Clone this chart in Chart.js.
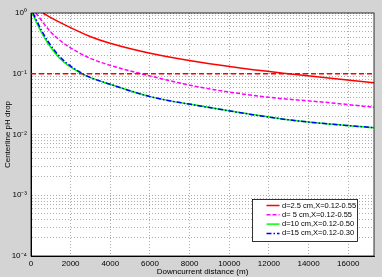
<!DOCTYPE html>
<html>
<head>
<meta charset="utf-8">
<script src="https://cdn.jsdelivr.net/npm/chart.js@4.4.0/dist/chart.umd.min.js"></script>
<style>
  html, body { margin: 0; padding: 0; background: #d4d4d4; }
</style>
</head>
<body>
<canvas id="pHChart" width="382" height="277"></canvas>
<script>
// distances (m) and centerline pH drop
const redX = [600, 1025, 1530, 2980, 3990, 6010, 8535, 10555, 13590, 17320];
const redY = [1, 0.83, 0.68, 0.41, 0.317, 0.217, 0.154, 0.1245, 0.095, 0.071];

const magentaX = [250, 960, 1530, 1970, 2980, 4500, 5500, 8535, 12000, 15000, 17320];
const magentaY = [1, 0.5, 0.34, 0.27, 0.18, 0.123, 0.101, 0.06, 0.041, 0.0335, 0.028];

const greenX = [60, 480, 820, 1480, 2560, 2980, 3990, 6010, 8535, 13080, 17320];
const greenY = [1, 0.51, 0.33, 0.175, 0.1, 0.087, 0.067, 0.042, 0.0295, 0.0173, 0.0129];

const blueX = [100, 520, 860, 1530, 2600, 2980, 3990, 6010, 8535, 13080, 17320];
const blueY = [1, 0.525, 0.34, 0.18, 0.1, 0.087, 0.067, 0.042, 0.0295, 0.0173, 0.0129];

const refX = [0, 17300];
const refY = [0.1, 0.1];

const seriesLabels = ['d=2.5 cm,X=0.12-0.55', 'd= 5 cm,X=0.12-0.55', 'd=10 cm,X=0.12-0.50', 'd=15 cm,X=0.12-0.30'];

const xTicks = [0, 2000, 4000, 6000, 8000, 10000, 12000, 14000, 16000];
const xMax = 17300;
const yDecades = [1e-4, 1e-3, 1e-2, 1e-1, 1];
const yDecadeLabels = ['10\u207B\u2074', '10\u207B\u00B3', '10\u207B\u00B2', '10\u207B\u00B9', '10\u2070'];
const yMinorSteps = [2, 3, 4, 5, 6, 7, 8, 9];

const yTicks = [];
yDecades.forEach((d, i) => {
    yTicks.push(d);
    if (i < yDecades.length - 1) yMinorSteps.forEach(m => yTicks.push(d * m));
});

const pts = (xs, ys) => xs.map((x, i) => ({ x: x, y: ys[i] }));

const font = { family: '"Liberation Sans", Arial, sans-serif', size: 8 };

const plotFrame = {
    id: 'plotFrame',
    beforeDraw(chart) {
        const { ctx, chartArea: a } = chart;
        ctx.save();
        ctx.fillStyle = '#d4d4d4';
        ctx.fillRect(0, 0, chart.width, chart.height);
        ctx.fillStyle = '#ffffff';
        ctx.fillRect(a.left, a.top, a.right - a.left, a.bottom - a.top);
        ctx.restore();
    },
    afterDraw(chart) {
        const { ctx, chartArea: a } = chart;
        ctx.save();
        ctx.strokeStyle = '#000';
        ctx.lineWidth = 0.8;
        ctx.strokeRect(a.left, a.top, a.right - a.left, a.bottom - a.top);

        // legend box, lower right
        const bx = 252.5, by = 199.5, bw = 105, bh = 42;
        ctx.fillStyle = '#fff';
        ctx.fillRect(bx, by, bw, bh);
        ctx.strokeRect(bx, by, bw, bh);
        ctx.font = '7.5px "Liberation Sans", Arial, sans-serif';
        ctx.textBaseline = 'middle';
        chart.data.datasets.filter(ds => ds.legendRow !== undefined).forEach(ds => {
            const y = by + 6 + ds.legendRow * 9.3;
            ctx.strokeStyle = ds.borderColor;
            ctx.lineWidth = ds.borderWidth;
            ctx.setLineDash(ds.borderDash || []);
            ctx.beginPath();
            ctx.moveTo(bx + 14, y);
            ctx.lineTo(bx + 27, y);
            ctx.stroke();
            ctx.setLineDash([]);
            ctx.fillStyle = '#000';
            ctx.fillText(ds.label, bx + 29.5, y);
        });
        ctx.restore();
    }
};

new Chart(document.getElementById('pHChart'), {
    type: 'scatter',
    data: {
        datasets: [
            { label: seriesLabels[3], data: pts(blueX, blueY), borderColor: '#0000ff', borderWidth: 1.5, borderDash: [5, 2, 1.5, 2], order: 1, legendRow: 3 },
            { label: seriesLabels[2], data: pts(greenX, greenY), borderColor: '#00ff00', borderWidth: 1.5, order: 2, legendRow: 2 },
            { label: seriesLabels[1], data: pts(magentaX, magentaY), borderColor: '#ff00ff', borderWidth: 1.5, borderDash: [4, 2], order: 3, legendRow: 1 },
            { label: seriesLabels[0], data: pts(redX, redY), borderColor: '#ff0000', borderWidth: 1.5, order: 4, legendRow: 0 },
            { label: 'ref', data: pts(refX, refY), borderColor: '#ff0000', borderWidth: 1.5, borderDash: [5, 3], order: 0 }
        ]
    },
    options: {
        responsive: false,
        animation: false,
        showLine: true,
        elements: {
            point: { radius: 0 },
            line: { cubicInterpolationMode: 'monotone', fill: false }
        },
        layout: { padding: { top: 13, right: 8, left: 0, bottom: 0 } },
        plugins: { legend: { display: false }, tooltip: { enabled: false } },
        scales: {
            x: {
                type: 'linear',
                min: 0,
                max: xMax,
                afterBuildTicks: s => { s.ticks = xTicks.map(v => ({ value: v })); },
                afterFit: s => { s.height = 21; },
                ticks: { font: font, color: '#000', padding: 3, maxRotation: 0, autoSkip: false, callback: v => String(v) },
                grid: { color: '#8a8a8a', lineWidth: 0.7, drawTicks: false },
                border: { color: '#000', dash: [1, 2] },
                title: { display: true, text: 'Downcurrent distance (m)', font: font, color: '#000', padding: { top: 0, bottom: 0 } }
            },
            y: {
                type: 'logarithmic',
                min: 1e-4,
                max: 1,
                afterBuildTicks: s => { s.ticks = yTicks.map(v => ({ value: v })); },
                afterFit: s => { s.width = 31; },
                ticks: {
                    font: font, color: '#000', padding: 4, autoSkip: false,
                    callback: v => {
                        const i = yDecades.findIndex(d => Math.abs(d - v) / d < 1e-6);
                        return i >= 0 ? yDecadeLabels[i] : '';
                    }
                },
                grid: { color: '#8a8a8a', lineWidth: 0.7, drawTicks: false },
                border: { color: '#000', dash: [1, 2] },
                title: { display: true, text: 'Centerline pH drop', font: font, color: '#000', padding: { top: 3, bottom: 0 } }
            }
        }
    },
    plugins: [plotFrame]
});
</script>
</body>
</html>
